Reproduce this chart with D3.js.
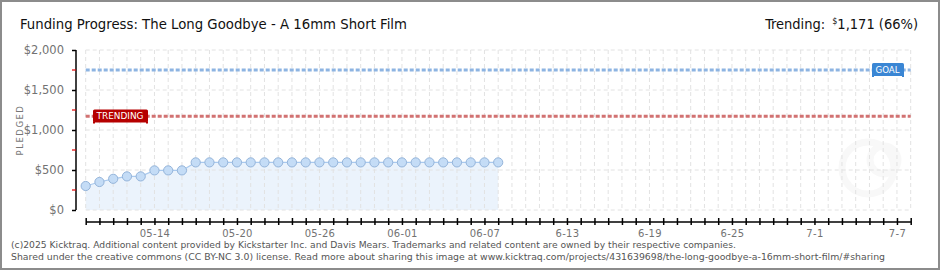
<!doctype html>
<html>
  <head>
    <meta charset="utf-8">
    <script src="https://cdn.jsdelivr.net/npm/d3@7/dist/d3.min.js"></script>
    <style>
      body { margin: 0; background: #fff; }
      svg { display: block; }
    </style>
  </head>
  <body>
    <svg id="chart" width="940" height="270"></svg>
    <script>
      // data
      const startDay = "2025-05-09";
      const endDay = "2025-07-08";
      const pledged = [300, 350, 390, 420, 420, 495, 495, 495, 595, 595, 595, 595, 595, 595, 595, 595,
        595, 595, 595, 595, 595, 595, 595, 595, 595, 595, 595, 595, 595, 595, 595];
      const goal = 1750;
      const trending = 1171;
      const yTicks = [0, 500, 1000, 1500, 2000];
      const yMinor = [250, 750, 1250, 1750];
      const xLabels = {
        "2025-05-14": "05-14", "2025-05-20": "05-20", "2025-05-26": "05-26",
        "2025-06-01": "06-01", "2025-06-07": "06-07", "2025-06-13": "6-13",
        "2025-06-19": "6-19", "2025-06-25": "6-25", "2025-07-01": "7-1", "2025-07-07": "7-7"
      };
      const title = "Funding Progress: The Long Goodbye - A 16mm Short Film";
      const footer = [
        "(c)2025 Kicktraq. Additional content provided by Kickstarter Inc. and Davis Mears. Trademarks and related content are owned by their respective companies.",
        "Shared under the creative commons (CC BY-NC 3.0) license. Read more about sharing this image at www.kicktraq.com/projects/431639698/the-long-goodbye-a-16mm-short-film/#sharing"
      ];

      const parse = d3.utcParse("%Y-%m-%d");
      const fmt = d3.utcFormat("%Y-%m-%d");
      const t0 = parse(startDay);
      const t1 = parse(endDay);
      const points = pledged.map((v, i) => ({ date: d3.utcDay.offset(t0, i), value: v }));

      const svg = d3.select("#chart");
      const x = d3.scaleUtc().domain([t0, t1]).range([85.7, 910.7]);
      const y = d3.scaleLinear().domain([0, 2000]).range([210, 50]);
      const days = d3.utcDay.range(t0, d3.utcDay.offset(t1, 1));

      // frame
      svg.append("rect").attr("x", 1).attr("y", 1).attr("width", 938).attr("height", 268)
        .attr("fill", "#fff").attr("stroke", "#8c8c8c").attr("stroke-width", 2);

      // faint watermark
      const wm = svg.append("g").attr("fill", "none").attr("stroke", "#f8f8f8").attr("stroke-width", 7);
      wm.append("circle").attr("cx", 868).attr("cy", 168).attr("r", 26);
      wm.append("circle").attr("cx", 884).attr("cy", 160).attr("r", 14);

      // area under data
      svg.append("path").datum(points)
        .attr("d", d3.area().x(d => x(d.date)).y0(y(0)).y1(d => y(d.value)))
        .attr("fill", "#e3eefb").attr("opacity", 0.7);

      // grid
      const grid = svg.append("g").attr("stroke", "#e2e2e2").attr("stroke-dasharray", "4,3");
      grid.selectAll("line.v").data(days).join("line").attr("class", "v")
        .attr("x1", d => x(d)).attr("x2", d => x(d)).attr("y1", y(2000)).attr("y2", y(0));
      grid.selectAll("line.h").data(yTicks).join("line").attr("class", "h")
        .attr("x1", x(t0)).attr("x2", x(t1)).attr("y1", d => y(d)).attr("y2", d => y(d));

      // goal and trending lines
      svg.append("line").attr("x1", x(t0)).attr("x2", x(t1))
        .attr("y1", y(goal)).attr("y2", y(goal))
        .attr("stroke", "#8db4e2").attr("stroke-width", 3).attr("stroke-dasharray", "4,2");
      svg.append("line").attr("x1", x(t0)).attr("x2", x(t1))
        .attr("y1", y(trending)).attr("y2", y(trending))
        .attr("stroke", "#d27272").attr("stroke-width", 3).attr("stroke-dasharray", "4,2");

      // y axis
      const yAxis = svg.append("g").attr("transform", "translate(76,0)")
        .call(d3.axisLeft(y).tickValues(yTicks).tickSize(4).tickPadding(8)
          .tickFormat(d => "$" + d3.format(",")(d)));
      yAxis.select(".domain").attr("stroke", "#000").attr("stroke-width", 1.5).attr("d", "M0,50V210");
      yAxis.selectAll(".tick line").attr("stroke", "#000").attr("stroke-width", 1.5);
      yAxis.selectAll(".tick text").attr("fill", "#727272")
        .attr("font-size", 11.5).attr("font-family", "DejaVu Sans");
      svg.append("g").selectAll("line").data(yMinor).join("line")
        .attr("x1", 72).attr("x2", 76).attr("y1", d => y(d)).attr("y2", d => y(d))
        .attr("stroke", "#e00000").attr("stroke-width", 1.2);

      svg.append("text").attr("transform", "translate(23,130) rotate(-90)")
        .attr("text-anchor", "middle").attr("font-family", "DejaVu Sans").attr("font-size", 8.5)
        .attr("letter-spacing", 1.5).attr("fill", "#777").text("PLEDGED");

      // x axis
      const xAxis = svg.append("g").attr("transform", "translate(0,221.5)")
        .call(d3.axisBottom(x).tickValues(days).tickSizeInner(3.5).tickSizeOuter(0).tickPadding(5)
          .tickFormat(d => xLabels[fmt(d)] || ""));
      xAxis.select(".domain").attr("stroke", "#000").attr("stroke-width", 1.5);
      xAxis.selectAll(".tick line").attr("stroke", "#000").attr("stroke-width", 1.5).attr("y1", -3.5);
      xAxis.selectAll(".tick text").attr("fill", "#727272").attr("font-size", 10)
        .attr("font-family", "DejaVu Sans").attr("letter-spacing", 0.3);

      // data line and points
      svg.append("path").datum(points)
        .attr("d", d3.line().x(d => x(d.date)).y(d => y(d.value)))
        .attr("fill", "none").attr("stroke", "#a9c9ee").attr("stroke-width", 1.2);
      svg.append("g").selectAll("circle").data(points).join("circle")
        .attr("cx", d => x(d.date)).attr("cy", d => y(d.value)).attr("r", 4.6)
        .attr("fill", "#c4dcf6").attr("stroke", "#94b4da").attr("stroke-width", 1);

      // flags
      function flag(x0, y0, w, h, color, label) {
        const g = svg.append("g");
        g.append("rect").attr("x", x0).attr("y", y0).attr("width", w).attr("height", h)
          .attr("rx", 1.5).attr("fill", color);
        g.append("rect").attr("x", x0).attr("y", y0 + h - 1).attr("width", 2).attr("height", 2).attr("fill", color);
        g.append("rect").attr("x", x0 + w - 2).attr("y", y0 + h - 1).attr("width", 2).attr("height", 2).attr("fill", color);
        g.append("text").attr("x", x0 + 3.5).attr("y", y0 + h - 3.3)
          .attr("font-family", "DejaVu Sans").attr("font-size", 9)
          .attr("textLength", w - 8).attr("lengthAdjust", "spacingAndGlyphs")
          .attr("fill", "#fff").text(label);
      }
      flag(872, 63, 32, 13, "#3a86d4", "GOAL");
      flag(93, 109.5, 55, 13, "#b60000", "TRENDING");

      // header
      svg.append("text").attr("x", 20).attr("y", 29).attr("font-family", "DejaVu Sans Condensed")
        .attr("font-size", 14.5).attr("fill", "#111").attr("textLength", 387)
        .attr("lengthAdjust", "spacingAndGlyphs").text(title);
      const tr = svg.append("text").attr("x", 918).attr("y", 29).attr("text-anchor", "end")
        .attr("font-family", "DejaVu Sans Condensed").attr("font-size", 14.5).attr("fill", "#111");
      tr.append("tspan").text("Trending:");
      tr.append("tspan").attr("dx", 7).attr("font-size", 9).attr("dy", -5).text("$");
      tr.append("tspan").attr("dy", 5).text(d3.format(",")(trending) + " (" + Math.floor(trending / goal * 100) + "%)");

      // footer
      svg.selectAll("text.foot").data(footer).join("text").attr("class", "foot")
        .attr("x", 11).attr("y", (d, i) => 248 + i * 11.5)
        .attr("font-family", "DejaVu Sans").attr("font-size", 9.5).attr("fill", "#555")
        .attr("textLength", (d, i) => i === 0 ? 725 : 874)
        .attr("lengthAdjust", "spacingAndGlyphs").text(d => d);
    </script>
  </body>
</html>
